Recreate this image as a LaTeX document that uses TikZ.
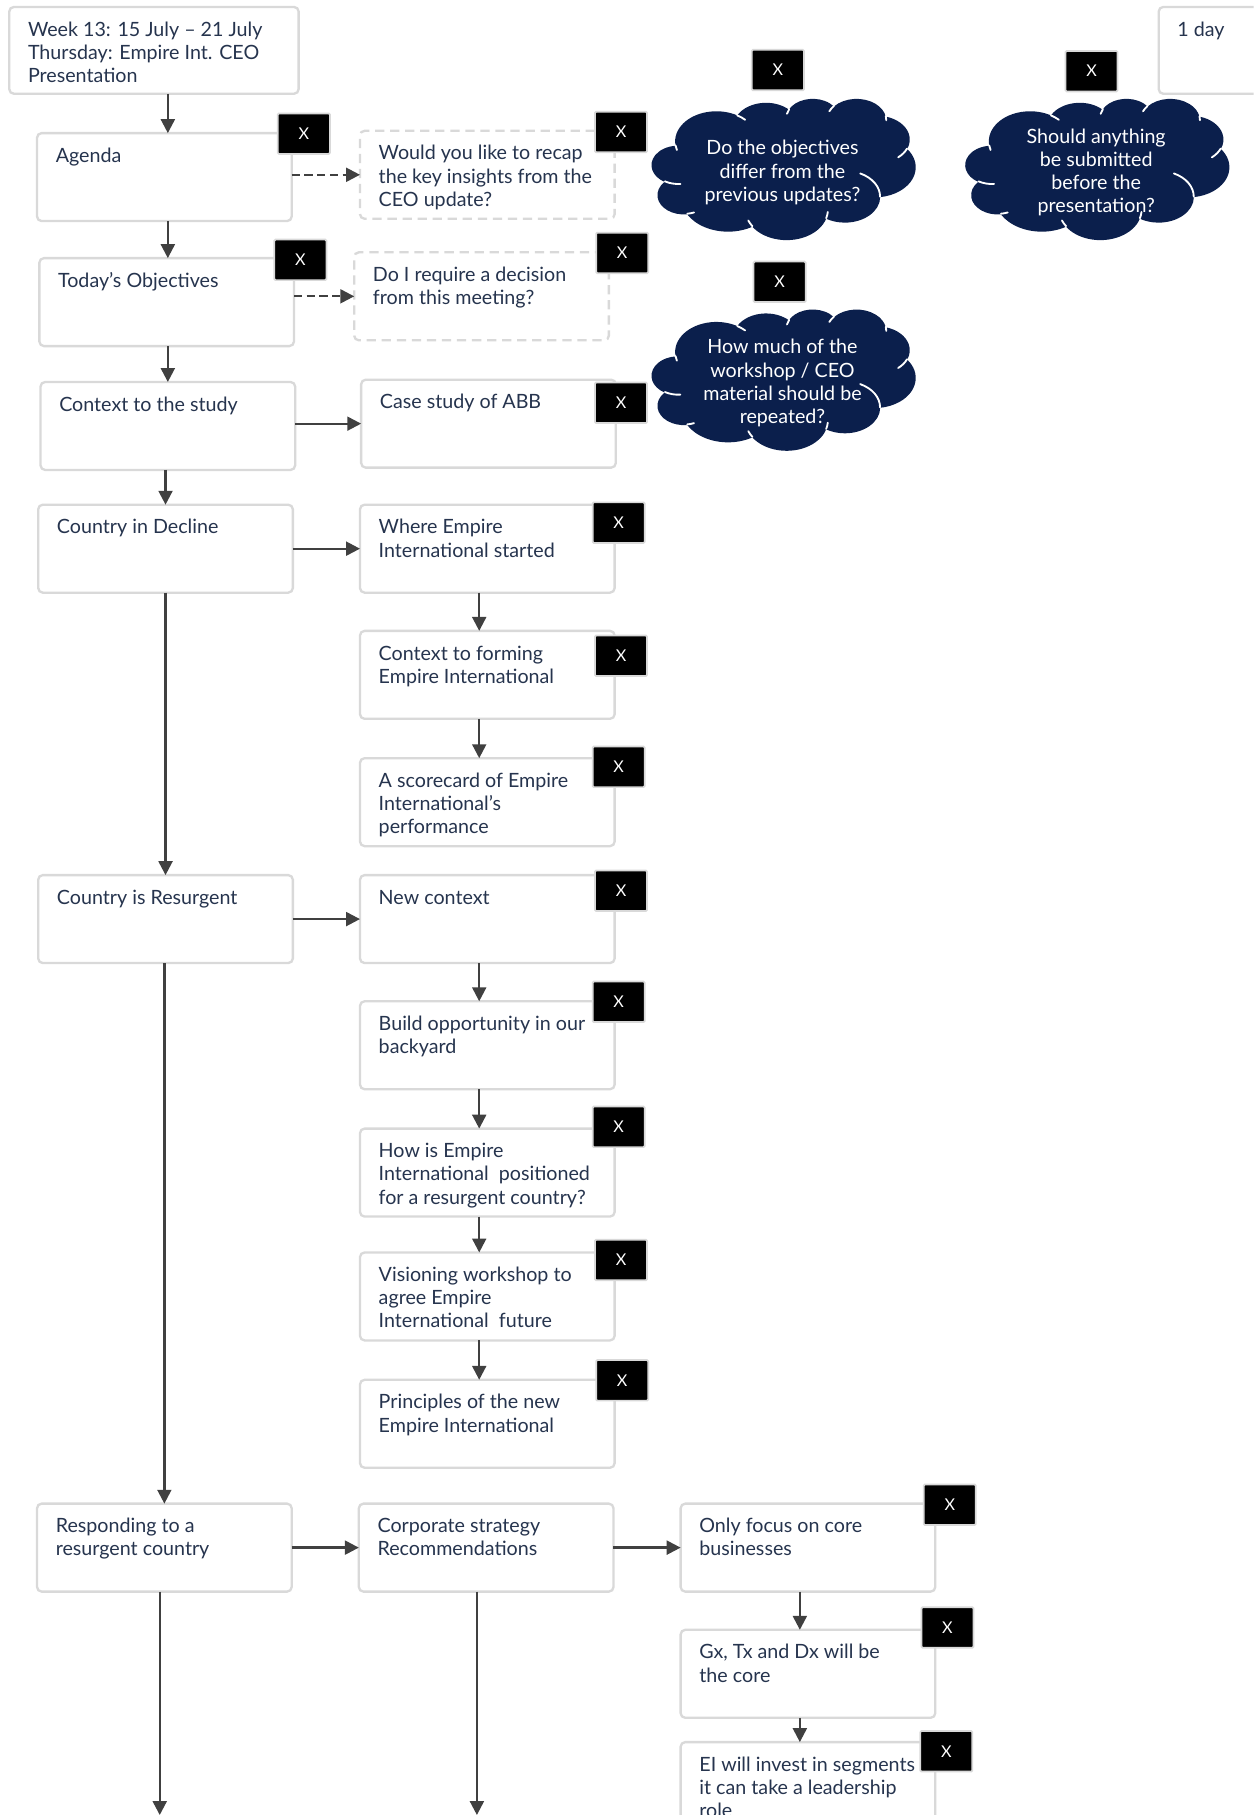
\documentclass[tikz,border=0pt]{standalone}
\usepackage{fontspec}
\setmainfont{Lato}
\usetikzlibrary{arrows.meta,calc}

\definecolor{ink}{RGB}{38,52,78}
\definecolor{rim}{RGB}{217,217,217}
\definecolor{wire}{RGB}{64,64,64}
\definecolor{navy}{RGB}{11,31,76}

\tikzset{
  card/.style={draw=rim, line width=2pt, rounded corners=4pt, fill=white,
    anchor=north west, minimum width=220pt, minimum height=76pt,
    inner sep=0pt, outer sep=0pt},
  query/.style={dash pattern=on 8pt off 5pt},
  cardtext/.style={anchor=north west, inner sep=0pt, align=left, text=ink,
    font=\fontsize{17}{20}\selectfont},
  xbtn/.style={fill=black, draw=rim, line width=1.5pt, rounded corners=1pt,
    minimum width=45pt, minimum height=35pt, inner sep=0pt, text=white,
    font=\fontsize{14}{14}\selectfont},
  flow/.style={draw=wire, line width=2pt, -{Triangle[length=12pt,width=12pt]}},
  dflow/.style={flow, dash pattern=on 7pt off 4pt},
  cloudtext/.style={align=center, text=white, inner sep=0pt,
    font=\fontsize{17}{20}\selectfont},
}

% a card: rounded box with its text set from the top left corner
\newcommand\card[5][]{%
  \node[card,#1] (#2) at (#3,#4) {};
  \node[cardtext] (#2-text) at ($(#2.north west)+(16,12)$) {\rule{0pt}{13pt}#5};
}

% elliptic arc given by visual start angle and sweep (DrawingML style)
\newcommand\ooarc[4]{%
  arc[start angle={atan2((#1)*sin(#3),(#2)*cos(#3))},
      delta angle={mod(atan2((#1)*sin((#3)+(#4)),(#2)*cos((#3)+(#4)))-atan2((#1)*sin(#3),(#2)*cos(#3))+720,360)},
      x radius=#1, y radius=#2]}

% cloud outline in a 43.2 x 43.2 frame
\newcommand\cloudoutline{%
  (3.900,14.370)
  \ooarc{6.753}{9.190}{-190.48748}{123.78053}
  \ooarc{5.333}{7.267}{-144.10238}{89.94523}
  \ooarc{4.365}{5.945}{-145.80792}{99.72302}
  \ooarc{4.857}{6.595}{-130.98607}{117.24173}
  \ooarc{5.333}{7.273}{-78.70888}{109.02692}
  \ooarc{6.775}{9.220}{-46.26725}{130.269}
  \ooarc{5.785}{7.867}{0.62502}{114.03333}
  \ooarc{6.752}{9.215}{22.4516}{115.17255}
  \ooarc{7.720}{10.543}{66.24263}{75.71102}
  \ooarc{4.360}{5.918}{-274.94208}{146.73557}
  \ooarc{4.345}{5.945}{-246.8285}{152.51855}
  -- cycle}

% folds between the puffs of the cloud
\newcommand\cloudcreases{%
  (4.693,26.177) \ooarc{4.345}{5.945}{86.742}{26.4295}
  (6.928,34.899) \ooarc{4.360}{5.918}{73.61047}{11.44747}
  (16.478,39.090) \ooarc{6.752}{9.215}{137.62415}{14.0811}
  (28.827,34.751) \ooarc{6.752}{9.215}{6.45327}{15.99835}
  (34.129,22.954) \ooarc{5.785}{7.867}{-70.29235}{70.91737}
  (41.798,15.354) \ooarc{5.333}{7.273}{30.31803}{27.7515}
  (38.324,5.426) \ooarc{4.857}{6.595}{-13.74433}{14.8589}
  (29.078,3.952) \ooarc{4.857}{6.595}{-149.18145}{18.19537}
  (22.141,4.720) \ooarc{4.365}{5.945}{-163.49427}{17.68635}
  (14.000,5.192) \ooarc{6.753}{9.190}{-66.70695}{12.31935}
  (4.127,15.789) \ooarc{6.753}{9.190}{157.65435}{11.85817}}

% a 228 x 122 thought cloud with its top left corner at (x,y)
\newcommand\thoughtcloud[4]{%
  \begin{scope}[shift={(#2,#3)}, x=5.27778pt, y=-2.82407pt]
    \fill[navy] \cloudoutline;
    \draw[white, line width=1.6pt, line cap=round] \cloudcreases;
  \end{scope}
  \node[cloudtext] (#1) at (#2+113,#3+64) {#4};
}

\begin{document}
\begin{tikzpicture}[x=1pt,y=-1pt]
\useasboundingbox (0,0) rectangle (1083,1568);
\clip (0,0) rectangle (1083,1568);
\fill[white] (0,0) rectangle (1083,1568);

% ---- left column
\card[minimum width=250pt, minimum height=75pt]{title}{8}{6}{Week 13: 15 July -- 21 July\\Thursday: Empire Int. CEO\\Presentation}
\card{agenda}{32}{115}{Agenda}
\card{today}{34}{223}{Today’s Objectives}
\card{context}{35}{330}{Context to the study}
\card{decline}{33}{436}{Country in Decline}
\card{resurgent}{33}{756}{Country is Resurgent}
\card{responding}{32}{1299}{Responding to a\\resurgent country}

% ---- middle column
\card[query]{recap}{311}{113}{Would you like to recap\\the key insights from the\\CEO update?}
\card[query]{decision}{306}{218}{Do I require a decision\\from this meeting?}
\card{abb}{312}{328}{Case study of ABB}
\card{started}{311}{436}{Where Empire\\International started}
\card{forming}{311}{545}{Context to forming\\Empire International}
\card{scorecard}{311}{655}{A scorecard of Empire\\International’s\\performance}
\card{newctx}{311}{756}{New context}
\card{build}{311}{865}{Build opportunity in our\\backyard}
\card{position}{311}{975}{How is Empire\\International\ \ positioned\\for a resurgent country?}
\card{vision}{311}{1082}{Visioning workshop to\\agree Empire\\International\ \ future}
\card{principles}{311}{1192}{Principles of the new\\Empire International}
\card{corporate}{310}{1299}{Corporate strategy\\Recommendations}

% ---- right column
\card{core}{588}{1299}{Only focus on core\\businesses}
\card{gtd}{588}{1408}{Gx, Tx and Dx will be\\the core}
\card{invest}{588}{1505}{EI will invest in segments\\it can take a leadership\\role}

% ---- duration
\card[minimum height=75pt]{duration}{1001}{6}{1 day}

% ---- clouds
\thoughtcloud{differ}{563}{85}{Do the objectives\\differ from the\\previous updates?}
\thoughtcloud{submit}{834}{85}{Should anything\\be submitted\\before the\\presentation?}
\thoughtcloud{repeat}{563}{267}{How much of the\\workshop / CEO\\material should be\\repeated?}

% ---- close buttons
\node[xbtn] (agenda-x) at (262.5,115.5) {X};
\node[xbtn] (recap-x) at (536.5,114) {X};
\node[xbtn] (today-x) at (259.5,224.5) {X};
\node[xbtn] (decision-x) at (537.5,218.5) {X};
\node[xbtn] (abb-x) at (536.5,348) {X};
\node[xbtn] (started-x) at (534.5,451.5) {X};
\node[xbtn] (forming-x) at (536.5,566.5) {X};
\node[xbtn] (scorecard-x) at (534.5,662.5) {X};
\node[xbtn] (newctx-x) at (536.5,769.5) {X};
\node[xbtn] (build-x) at (534.5,865.5) {X};
\node[xbtn] (position-x) at (534.5,973.5) {X};
\node[xbtn] (vision-x) at (536.5,1088.5) {X};
\node[xbtn] (principles-x) at (537.5,1192.5) {X};
\node[xbtn] (core-x) at (820.5,1300) {X};
\node[xbtn] (gtd-x) at (818.5,1406) {X};
\node[xbtn] (invest-x) at (817.5,1513) {X};
\node[xbtn] (differ-x) at (672,60.5) {X};
\node[xbtn] (submit-x) at (943,61.5) {X};
\node[xbtn] (repeat-x) at (673.5,243.5) {X};

% ---- spines and loose ends
\coordinate (leftspine) at (145,0);
\coordinate (midspine) at (414,0);
\coordinate (rightspine) at (691,0);
\coordinate (leftend) at (138,1568);
\coordinate (midend) at (412,1568);

% ---- left column flow
\draw[flow] (leftspine |- title.south) -- (leftspine |- agenda.north);
\draw[flow] (leftspine |- agenda.south) -- (leftspine |- today.north);
\draw[flow] (leftspine |- today.south) -- (leftspine |- context.north);
\draw[flow] (decline.north |- context.south) -- (decline.north);
\draw[flow] (resurgent.north |- decline.south) -- (resurgent.north);
\draw[flow] (responding.north |- resurgent.south) -- (responding.north);
\draw[flow] (leftend |- responding.south) -- (leftend);

% ---- branches to the right
\draw[dflow] (agenda.east |- recap.west) -- (recap.west);
\draw[dflow] (today.east |- decision.west) -- (decision.west);
\draw[flow] (context.east |- abb.west) -- (abb.west);
\draw[flow] (decline.east |- started.west) -- (started.west);
\draw[flow] (resurgent.east |- newctx.west) -- (newctx.west);
\draw[flow] (responding.east |- corporate.west) -- (corporate.west);
\draw[flow] (corporate.east |- core.west) -- (core.west);

% ---- middle column flow
\draw[flow] (midspine |- started.south) -- (midspine |- forming.north);
\draw[flow] (midspine |- forming.south) -- (midspine |- scorecard.north);
\draw[flow] (midspine |- newctx.south) -- (midspine |- build.north);
\draw[flow] (midspine |- build.south) -- (midspine |- position.north);
\draw[flow] (midspine |- position.south) -- (midspine |- vision.north);
\draw[flow] (midspine |- vision.south) -- (midspine |- principles.north);
\draw[flow] (midend |- corporate.south) -- (midend);

% ---- right column flow
\draw[flow] (rightspine |- core.south) -- (rightspine |- gtd.north);
\draw[flow] (rightspine |- gtd.south) -- (rightspine |- invest.north);
\end{tikzpicture}
\end{document}
